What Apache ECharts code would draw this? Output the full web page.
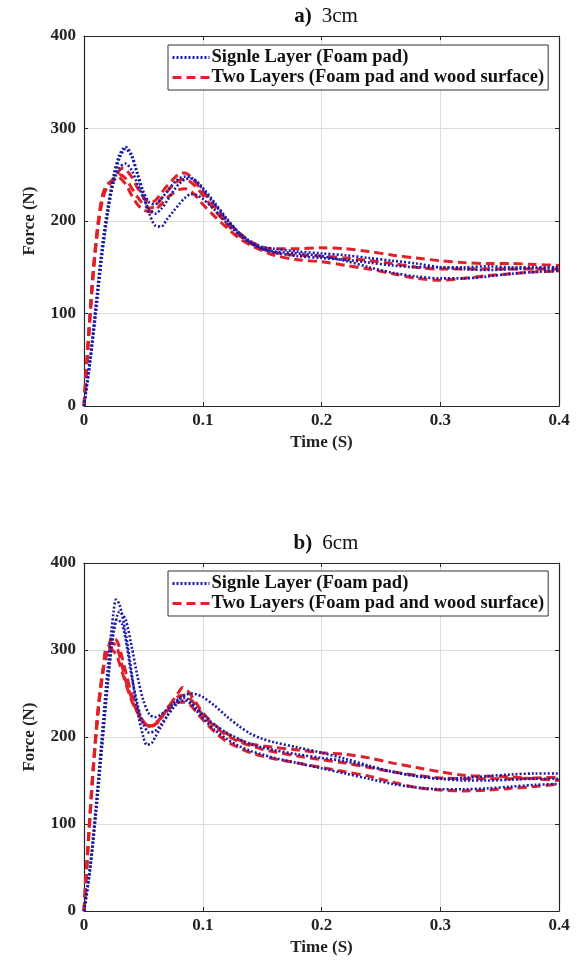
<!DOCTYPE html>
<html><head><meta charset="utf-8">
<script src="https://cdn.jsdelivr.net/npm/echarts@6/dist/echarts.min.js"></script>
<style>html,body{margin:0;padding:0;background:#fff}#c{width:583px;height:978px}</style>
</head><body><div id="c"></div>
<script>
// ---- Data (time in s, force in N) ----
const xTicks = [0, 0.1, 0.2, 0.3, 0.4];
const yTicks = [0, 100, 200, 300, 400];
const legendNames = ['Signle Layer (Foam pad)', 'Two Layers (Foam pad and wood surface)'];
const titleA = ['a)', '3cm'];
const titleB = ['b)', '6cm'];

// Chart a) 3cm — single layer (blue dotted)
const a_single_1 = [[0,0],[0.005,50],[0.01,110],[0.015,170],[0.02,215],[0.025,250],[0.03,272],[0.035,280],[0.04,272],[0.045,252],[0.05,232],[0.055,220],[0.06,218],[0.065,224],[0.07,232],[0.075,240],[0.08,246],[0.085,248],[0.09,247],[0.095,242],[0.1,234],[0.11,218],[0.12,202],[0.13,188],[0.14,177],[0.15,170],[0.16,166],[0.18,162],[0.2,160],[0.22,158],[0.24,155],[0.26,152],[0.28,150],[0.3,150],[0.32,150],[0.34,151],[0.36,150],[0.38,150],[0.4,150]];
const a_single_2 = [[0,0],[0.005,45],[0.01,100],[0.015,160],[0.02,208],[0.025,245],[0.03,268],[0.035,278],[0.04,270],[0.045,250],[0.05,228],[0.055,208],[0.06,195],[0.065,194],[0.07,202],[0.075,210],[0.08,218],[0.085,225],[0.09,229],[0.095,228],[0.1,224],[0.11,212],[0.12,198],[0.13,186],[0.14,176],[0.15,170],[0.16,167],[0.18,165],[0.2,162],[0.22,157],[0.24,150],[0.26,144],[0.28,140],[0.3,138],[0.32,138],[0.34,140],[0.36,143],[0.38,145],[0.4,146]];
const a_single_3 = [[0,0],[0.005,48],[0.01,105],[0.015,165],[0.02,210],[0.025,242],[0.03,258],[0.035,262],[0.04,255],[0.045,240],[0.05,225],[0.055,212],[0.06,208],[0.065,213],[0.07,222],[0.075,232],[0.08,240],[0.085,245],[0.09,246],[0.095,243],[0.1,236],[0.11,220],[0.12,203],[0.13,188],[0.14,178],[0.15,172],[0.16,170],[0.18,167],[0.2,165],[0.22,163],[0.24,160],[0.26,157],[0.28,154],[0.3,150],[0.32,148],[0.34,147],[0.36,148],[0.38,149],[0.4,148]];
// Chart a) 3cm — two layers (red dashed)
const a_two_1 = [[0,0],[0.004,80],[0.008,150],[0.012,200],[0.016,230],[0.02,240],[0.025,245],[0.03,255],[0.033,257],[0.04,248],[0.045,236],[0.05,226],[0.055,220],[0.06,222],[0.065,230],[0.07,238],[0.075,245],[0.08,251],[0.085,252],[0.09,248],[0.095,240],[0.1,232],[0.11,216],[0.12,200],[0.13,188],[0.14,178],[0.15,172],[0.16,170],[0.18,170],[0.2,171],[0.22,170],[0.24,167],[0.26,163],[0.28,160],[0.3,157],[0.32,155],[0.34,154],[0.36,154],[0.38,153],[0.4,152]];
const a_two_2 = [[0,0],[0.004,75],[0.008,145],[0.012,195],[0.016,225],[0.02,238],[0.025,246],[0.028,248],[0.035,240],[0.04,228],[0.045,218],[0.05,212],[0.055,210],[0.06,212],[0.065,218],[0.07,225],[0.075,230],[0.08,234],[0.085,235],[0.09,232],[0.095,226],[0.1,218],[0.11,205],[0.12,193],[0.13,182],[0.14,174],[0.15,168],[0.16,163],[0.18,158],[0.2,156],[0.22,152],[0.24,148],[0.26,143],[0.28,138],[0.3,136],[0.32,138],[0.34,141],[0.36,143],[0.38,145],[0.4,146]];
const a_two_3 = [[0,0],[0.004,78],[0.008,148],[0.012,198],[0.016,228],[0.02,238],[0.025,244],[0.03,250],[0.035,246],[0.04,236],[0.045,226],[0.05,218],[0.055,214],[0.06,216],[0.065,224],[0.07,232],[0.075,239],[0.08,244],[0.085,245],[0.09,242],[0.095,236],[0.1,228],[0.11,212],[0.12,197],[0.13,185],[0.14,176],[0.15,170],[0.16,166],[0.18,163],[0.2,162],[0.22,160],[0.24,157],[0.26,154],[0.28,150],[0.3,148],[0.32,148],[0.34,148],[0.36,148],[0.38,148],[0.4,148]];

// Chart b) 6cm — single layer (blue dotted)
const b_single_1 = [[0,0],[0.005,50],[0.01,120],[0.015,200],[0.02,280],[0.025,345],[0.027,358],[0.03,352],[0.035,320],[0.04,275],[0.045,230],[0.05,200],[0.053,191],[0.057,193],[0.06,200],[0.065,212],[0.07,224],[0.075,235],[0.08,243],[0.085,245],[0.09,240],[0.095,233],[0.1,226],[0.11,214],[0.12,205],[0.13,198],[0.14,192],[0.15,188],[0.16,185],[0.18,180],[0.2,176],[0.22,172],[0.24,166],[0.26,160],[0.28,155],[0.3,152],[0.32,150],[0.34,150],[0.36,151],[0.38,152],[0.4,152]];
const b_single_2 = [[0,0],[0.005,45],[0.01,110],[0.015,185],[0.02,260],[0.025,320],[0.03,344],[0.035,335],[0.04,305],[0.045,270],[0.05,242],[0.055,226],[0.06,223],[0.065,226],[0.07,232],[0.075,238],[0.08,244],[0.085,248],[0.09,250],[0.095,249],[0.1,246],[0.11,236],[0.12,224],[0.13,213],[0.14,204],[0.15,198],[0.16,194],[0.18,188],[0.2,182],[0.22,175],[0.24,167],[0.26,160],[0.28,155],[0.3,152],[0.32,153],[0.34,155],[0.36,157],[0.38,158],[0.4,158]];
const b_single_3 = [[0,0],[0.005,48],[0.01,115],[0.015,190],[0.02,265],[0.025,325],[0.028,335],[0.032,330],[0.036,305],[0.04,270],[0.045,238],[0.05,215],[0.055,205],[0.06,207],[0.065,215],[0.07,224],[0.075,233],[0.08,240],[0.085,242],[0.09,238],[0.095,230],[0.1,222],[0.11,208],[0.12,198],[0.13,190],[0.14,184],[0.15,180],[0.16,176],[0.18,170],[0.2,164],[0.22,158],[0.24,152],[0.26,146],[0.28,142],[0.3,140],[0.32,140],[0.34,141],[0.36,143],[0.38,145],[0.4,146]];
// Chart b) 6cm — two layers (red dashed)
const b_two_1 = [[0,0],[0.004,90],[0.008,170],[0.012,235],[0.016,278],[0.02,300],[0.024,315],[0.028,310],[0.032,292],[0.036,270],[0.04,250],[0.045,232],[0.05,218],[0.055,212],[0.06,214],[0.065,222],[0.07,232],[0.075,242],[0.08,252],[0.083,257],[0.088,252],[0.095,238],[0.1,228],[0.11,214],[0.12,204],[0.13,197],[0.14,192],[0.15,190],[0.16,188],[0.18,185],[0.2,182],[0.22,180],[0.24,176],[0.26,170],[0.28,165],[0.3,160],[0.32,156],[0.34,155],[0.36,154],[0.38,152],[0.4,150]];
const b_two_2 = [[0,0],[0.004,85],[0.008,165],[0.012,230],[0.016,275],[0.019,302],[0.024,300],[0.028,292],[0.032,275],[0.036,258],[0.04,242],[0.045,228],[0.05,217],[0.055,213],[0.06,216],[0.065,222],[0.07,230],[0.075,236],[0.08,240],[0.085,240],[0.09,236],[0.095,228],[0.1,220],[0.11,206],[0.12,195],[0.13,188],[0.14,182],[0.15,178],[0.16,175],[0.18,170],[0.2,165],[0.22,160],[0.24,155],[0.26,148],[0.28,142],[0.3,139],[0.32,138],[0.34,139],[0.36,141],[0.38,143],[0.4,146]];
const b_two_3 = [[0,0],[0.004,88],[0.008,168],[0.012,232],[0.016,276],[0.02,300],[0.023,308],[0.027,305],[0.031,288],[0.035,265],[0.04,245],[0.045,228],[0.05,216],[0.055,212],[0.06,215],[0.065,223],[0.07,233],[0.075,241],[0.08,247],[0.085,248],[0.09,243],[0.095,235],[0.1,225],[0.11,212],[0.12,202],[0.13,195],[0.14,190],[0.15,186],[0.16,183],[0.18,178],[0.2,174],[0.22,170],[0.24,165],[0.26,160],[0.28,156],[0.3,153],[0.32,152],[0.34,152],[0.36,152],[0.38,153],[0.4,154]];

// ---- Styling / layout ----
const FONT = '"Liberation Serif", "Times New Roman", serif';
const BLUE = '#1c1ca8';
const RED = '#e0202a';
const grids = [
  {left: 84, width: 475, top: 36, height: 370},
  {left: 84, width: 475, top: 563, height: 348}
];
const lineCol = '#262626';
function xAxes(gi) {
  return [
    {type:'value', gridIndex: gi, position: 'bottom', min: xTicks[0], max: xTicks[xTicks.length-1], interval: 0.1,
     name: 'Time (S)', nameLocation: 'middle', nameGap: 28,
     nameTextStyle: {fontFamily: FONT, fontWeight: 'bold', fontSize: 17, color: '#222'},
     axisLine: {show: true, onZero: false, lineStyle: {color: lineCol, width: 1.2}},
     axisTick: {show: true, inside: true, length: 4, lineStyle: {color: lineCol}},
     axisLabel: {fontFamily: FONT, fontWeight: 'bold', fontSize: 17, color: '#222', margin: 6,
                 formatter: v => String(+v.toFixed(1))},
     splitLine: {show: true, lineStyle: {color: '#dcdcdc', width: 1}}},
    {type:'value', gridIndex: gi, position: 'top', min: xTicks[0], max: xTicks[xTicks.length-1], interval: 0.1,
     axisLine: {show: true, onZero: false, lineStyle: {color: lineCol, width: 1.2}},
     axisTick: {show: true, inside: true, length: 4, lineStyle: {color: lineCol}},
     axisLabel: {show: false}, splitLine: {show: false}}
  ];
}
function yAxes(gi) {
  return [
    {type:'value', gridIndex: gi, position: 'left', min: yTicks[0], max: yTicks[yTicks.length-1], interval: 100,
     name: 'Force (N)', nameLocation: 'middle', nameGap: 46, nameRotate: 90,
     nameTextStyle: {fontFamily: FONT, fontWeight: 'bold', fontSize: 17, color: '#222'},
     axisLine: {show: true, onZero: false, lineStyle: {color: lineCol, width: 1.2}},
     axisTick: {show: true, inside: true, length: 4, lineStyle: {color: lineCol}},
     axisLabel: {fontFamily: FONT, fontWeight: 'bold', fontSize: 17, color: '#222', margin: 8},
     splitLine: {show: true, lineStyle: {color: '#dcdcdc', width: 1}}},
    {type:'value', gridIndex: gi, position: 'right', min: yTicks[0], max: yTicks[yTicks.length-1], interval: 100,
     axisLine: {show: true, onZero: false, lineStyle: {color: lineCol, width: 1.2}},
     axisTick: {show: true, inside: true, length: 4, lineStyle: {color: lineCol}},
     axisLabel: {show: false}, splitLine: {show: false}}
  ];
}
function mk(name, data, axisIdx, dashed) {
  return {
    name: name, type: 'line', data: data, xAxisIndex: axisIdx, yAxisIndex: axisIdx,
    showSymbol: false, symbol: 'none', smooth: 0.3, z: dashed ? 3 : 4,
    lineStyle: dashed ? {color: RED, width: 3, type: [9, 5]} : {color: BLUE, width: 2.6, type: [2, 2]},
    itemStyle: {color: dashed ? RED : BLUE}
  };
}
const series = [
  mk(legendNames[0], a_single_1, 0, false), mk(legendNames[0], a_single_2, 0, false), mk(legendNames[0], a_single_3, 0, false),
  mk(legendNames[1], a_two_1, 0, true), mk(legendNames[1], a_two_2, 0, true), mk(legendNames[1], a_two_3, 0, true),
  mk(legendNames[0], b_single_1, 2, false), mk(legendNames[0], b_single_2, 2, false), mk(legendNames[0], b_single_3, 2, false),
  mk(legendNames[1], b_two_1, 2, true), mk(legendNames[1], b_two_2, 2, true), mk(legendNames[1], b_two_3, 2, true)
];
function legend(top) {
  return {
    show: true,
    data: legendNames, orient: 'vertical', left: 168, top: top,
    backgroundColor: '#fff', borderColor: '#333', borderWidth: 1, padding: [3, 4, 3, 3],
    itemGap: 1, itemWidth: 37, itemHeight: 14,
    itemStyle: {opacity: 0},
    lineStyle: {width: 3},
    textStyle: {fontFamily: FONT, fontWeight: 'bold', fontSize: 18.5, color: '#111', padding: [0, 0, 0, -3]},
    selectedMode: false
  };
}
function title(t, top) {
  return {
    text: '{b|' + t[0] + '}  {n|' + t[1] + '}', left: 321, top: top, textAlign: 'center',
    textStyle: {rich: {
      b: {fontFamily: FONT, fontWeight: 'bold', fontSize: 21, color: '#111'},
      n: {fontFamily: FONT, fontWeight: 'normal', fontSize: 21, color: '#111'}
    }}
  };
}
const chart = echarts.init(document.getElementById('c'), null, {renderer: 'canvas'});
chart.setOption({
  animation: false,
  backgroundColor: '#fff',
  title: [title(titleA, 1), title(titleB, 528)],
  legend: [legend(45), legend(571)],
  grid: grids,
  xAxis: [...xAxes(0), ...xAxes(1)],
  yAxis: [...yAxes(0), ...yAxes(1)],
  series: series
});
</script></body></html>
